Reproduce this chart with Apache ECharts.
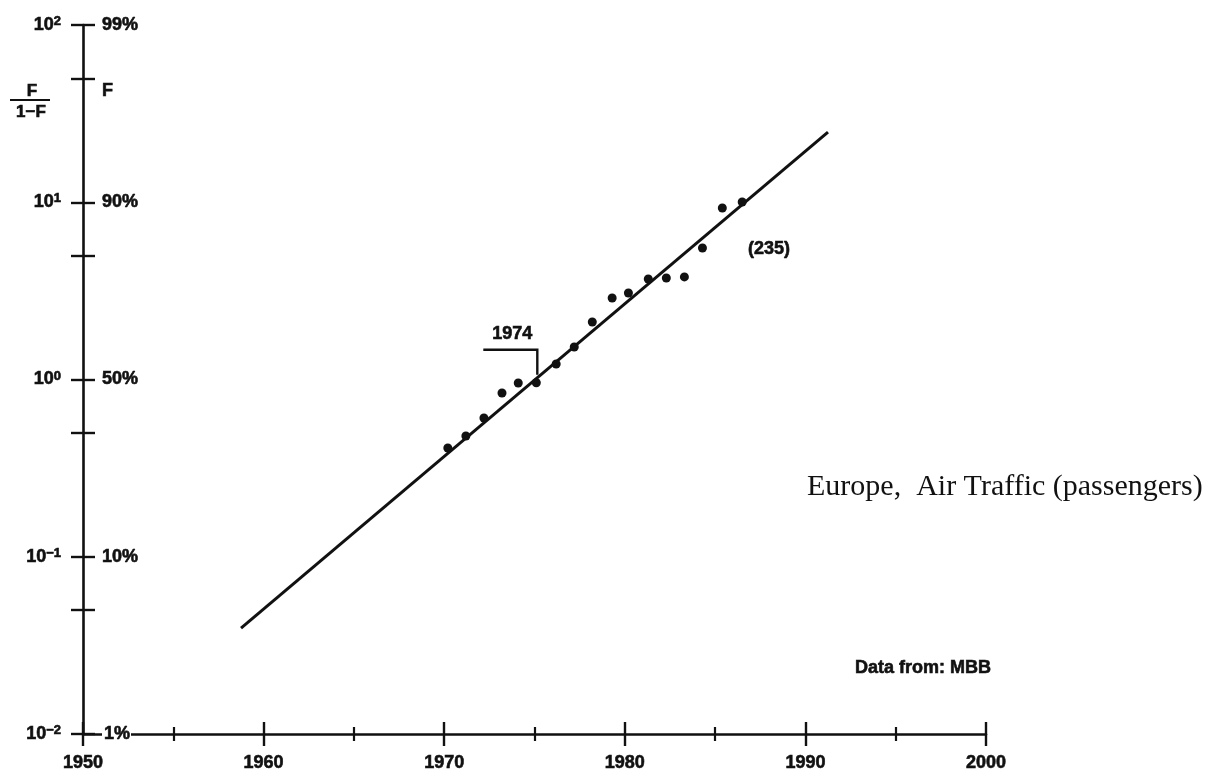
<!DOCTYPE html>
<html>
<head>
<meta charset="utf-8">
<script src="https://cdn.jsdelivr.net/npm/echarts@6/dist/echarts.min.js"></script>
<style>
  html, body { margin: 0; padding: 0; background: #fff; }
  #chart { width: 1225px; height: 782px; }
</style>
</head>
<body>
<div id="chart"></div>
<script>
// Observed passenger share, plotted as F/(1-F) on a log scale
const years  = [1970.2, 1971.2, 1972.2, 1973.2, 1974.1, 1975.1, 1976.2, 1977.2, 1978.2,
                1979.3, 1980.2, 1981.3, 1982.3, 1983.3, 1984.3, 1985.4, 1986.5];
const ratios = [0.411, 0.480, 0.606, 0.839, 0.956, 0.959, 1.223, 1.525, 2.110,
                2.883, 3.076, 3.69, 3.74, 3.79, 5.52, 9.28, 10.03];

// Fitted logistic trend (straight in this space): two end points
const fitYears  = [1958.75, 1991.25];
const fitRatios = [0.0396, 24.9];

// Axis ticks and labels
const yearTicks   = [1950, 1960, 1970, 1980, 1990, 2000];
const yDecades    = [0.01, 0.1, 1, 10, 100];
const yExponents  = ['\u22122', '\u22121', '0', '1', '2'];
const yHalfTicks  = [0.05, 0.5, 5, 50];
const shareValues = [0.01, 0.1, 1, 10, 50, 100];
const shareLabels = ['1%', '10%', '50%', '90%', 'F', '99%'];

// Annotated point
const noteIndex = 5;
const noteLabel = '1974';

const ink = '#111';
const sans = '"Liberation Sans", Arial, Helvetica, sans-serif';
const serif = '"Liberation Serif", "Times New Roman", serif';
const heavy = { textBorderColor: ink, textBorderWidth: 0.6 };

function indexOfValue(list, v) {
  const lv = Math.log10(v);
  for (let i = 0; i < list.length; i++) {
    if (Math.abs(Math.log10(list[i]) - lv) < 1e-6) return i;
  }
  return -1;
}

const chart = echarts.init(document.getElementById('chart'), null, { renderer: 'canvas' });

const tickStyle = { color: ink, width: 2.4 };
const boldText = Object.assign({ fontFamily: sans, fontWeight: 'bold', fontSize: 18, color: ink }, heavy);

const option = {
  backgroundColor: '#fff',
  animation: false,
  grid: { left: 83, top: 25, width: 903, height: 709, outerBoundsMode: 'none', containLabel: false },
  xAxis: [
    {
      type: 'value', min: yearTicks[0], max: yearTicks[yearTicks.length - 1], interval: 10,
      position: 'bottom',
      axisLine: { onZero: false, lineStyle: { color: ink, width: 2.6 } },
      axisTick: { show: true, length: 12, lineStyle: tickStyle },
      minorTick: { show: true, splitNumber: 2, length: 7, lineStyle: { color: ink, width: 2.2 } },
      axisLabel: Object.assign({ margin: 20, formatter: v => String(v) }, boldText),
      splitLine: { show: false }
    },
    {
      type: 'value', min: yearTicks[0], max: yearTicks[yearTicks.length - 1], interval: 10,
      position: 'bottom',
      axisLine: { show: false, onZero: false },
      axisTick: { show: true, inside: true, length: 12, lineStyle: tickStyle },
      minorTick: { show: true, splitNumber: 2, length: 7, lineStyle: { color: ink, width: 2.2 } },
      axisLabel: { show: false },
      splitLine: { show: false }
    }
  ],
  yAxis: [
    {
      type: 'log', logBase: 10, min: 0.01, max: 100, position: 'left',
      axisLine: { show: true, lineStyle: { color: ink, width: 2.6 } },
      axisTick: { show: true, length: 12, lineStyle: tickStyle, customValues: yDecades.concat(yHalfTicks) },
      axisLabel: {
        margin: 22,
        customValues: yDecades,
        formatter: v => {
          const i = indexOfValue(yDecades, v);
          return '{b|10}{s|' + (i >= 0 ? yExponents[i] : '') + '}';
        },
        rich: {
          b: Object.assign({ fontFamily: sans, fontWeight: 'bold', fontSize: 18, color: ink, lineHeight: 20 }, heavy),
          s: Object.assign({ fontFamily: sans, fontWeight: 'bold', fontSize: 13, color: ink, lineHeight: 12, verticalAlign: 'top' }, heavy)
        }
      },
      splitLine: { show: false }
    },
    {
      type: 'log', logBase: 10, min: 0.01, max: 100, position: 'left', z: 4,
      axisLine: { show: false },
      axisTick: { show: true, inside: true, length: 12, lineStyle: tickStyle, customValues: yDecades.concat(yHalfTicks) },
      axisLabel: {
        inside: true,
        margin: 19,
        customValues: shareValues,
        formatter: v => {
          const i = indexOfValue(shareValues, v);
          const t = i >= 0 ? shareLabels[i] : '';
          if (t === 'F') return '{f|F}';
          if (i === 0) return '{low|' + t + '}';
          return '{n|' + t + '}';
        },
        rich: {
          n: Object.assign({ fontFamily: sans, fontWeight: 'bold', fontSize: 18, color: ink }, heavy),
          f: Object.assign({ fontFamily: sans, fontWeight: 'bold', fontSize: 18, color: ink, padding: [26, 0, 0, 0] }, heavy),
          low: Object.assign({ fontFamily: sans, fontWeight: 'bold', fontSize: 18, color: ink, backgroundColor: '#fff', padding: [2, 1, 2, 2] }, heavy)
        }
      },
      splitLine: { show: false }
    }
  ],
  series: [
    {
      name: 'trend',
      type: 'line',
      xAxisIndex: 0, yAxisIndex: 0,
      data: fitYears.map((x, i) => [x, fitRatios[i]]),
      symbol: 'none',
      lineStyle: { color: ink, width: 3 },
      z: 2
    },
    {
      name: 'observed',
      type: 'scatter',
      xAxisIndex: 0, yAxisIndex: 0,
      data: years.map((x, i) => [x, ratios[i]]),
      symbol: 'circle',
      symbolSize: 9,
      itemStyle: { color: ink, opacity: 1 },
      z: 3
    },
    {
      name: 'note',
      type: 'custom',
      xAxisIndex: 0, yAxisIndex: 0,
      data: [[years[noteIndex], ratios[noteIndex]]],
      renderItem: (params, api) => {
        const p = api.coord([api.value(0), api.value(1)]);
        return {
          type: 'group',
          children: [
            {
              type: 'polyline',
              shape: { points: [[p[0] - 53, p[1] - 33], [p[0] + 1, p[1] - 33], [p[0] + 1, p[1] - 8]] },
              style: { stroke: ink, lineWidth: 2.4, fill: 'none' }
            },
            {
              type: 'text',
              style: Object.assign({
                text: noteLabel, x: p[0] - 24, y: p[1] - 49,
                font: 'bold 18px ' + sans, fill: ink, align: 'center', verticalAlign: 'middle',
                stroke: ink, lineWidth: 0.6
              })
            }
          ]
        };
      },
      z: 5
    }
  ],
  graphic: [
    {
      type: 'group',
      children: [
        { type: 'text', x: 32, y: 91, style: { text: 'F', font: 'bold 17px ' + sans, fill: ink, stroke: ink, lineWidth: 0.6, textAlign: 'center', textVerticalAlign: 'middle' } },
        { type: 'line', shape: { x1: 10, y1: 100, x2: 50, y2: 100 }, style: { stroke: ink, lineWidth: 2.2 } },
        { type: 'text', x: 31, y: 112, style: { text: '1\u2212F', font: 'bold 17px ' + sans, fill: ink, stroke: ink, lineWidth: 0.6, textAlign: 'center', textVerticalAlign: 'middle' } }
      ]
    },
    { type: 'text', x: 769, y: 249, style: { text: '(235)', font: 'bold 18px ' + sans, fill: ink, stroke: ink, lineWidth: 0.6, textAlign: 'center', textVerticalAlign: 'middle' } },
    { type: 'text', x: 807, y: 487, style: { text: 'Europe,  Air Traffic (passengers)', font: '30px ' + serif, fill: ink, textAlign: 'left', textVerticalAlign: 'middle' } },
    { type: 'text', x: 855, y: 668, style: { text: 'Data from: MBB', font: 'bold 18px ' + sans, fill: ink, stroke: ink, lineWidth: 0.6, textAlign: 'left', textVerticalAlign: 'middle' } }
  ]
};

chart.setOption(option);
</script>
</body>
</html>
